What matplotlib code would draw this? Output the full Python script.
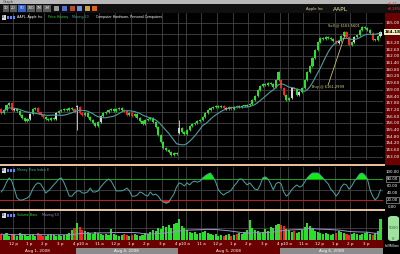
import numpy as np
import pandas as pd
import matplotlib
matplotlib.use('Agg')
import matplotlib.pyplot as plt
from matplotlib.patches import Rectangle, FancyBboxPatch
from matplotlib.transforms import blended_transform_factory

W, H = 400, 254

# 10 minute bars, closes
aug1_close = [156.93, 157.20, 157.65, 157.83, 157.20, 157.29, 157.11, 156.75, 156.48, 156.21,
              156.39, 156.84, 157.29, 157.38, 157.02, 156.75, 156.57, 156.39, 156.30, 156.48,
              156.39, 156.93, 157.11, 157.20, 157.29, 157.20, 157.38, 157.29, 157.02]
aug4_close = [157.47, 156.93, 156.75, 156.93, 156.57, 156.30, 156.03, 155.77, 156.12, 156.66,
              156.93, 157.02, 157.20, 157.29, 157.11, 157.29, 157.38, 157.20, 157.11, 156.75,
              156.93, 156.66, 156.84, 156.48, 156.21, 155.95, 156.30, 156.39, 156.48, 156.12,
              155.68, 154.96, 154.34, 153.80, 153.62, 153.44, 153.17, 153.35, 153.26]
aug5_close = [155.59, 155.23, 155.05, 155.41, 155.77, 155.95, 156.03, 156.21, 156.30, 156.57,
              156.93, 157.20, 157.38, 157.47, 157.56, 157.47, 157.56, 157.38, 157.29, 157.47,
              157.29, 157.47, 157.56, 157.47, 157.56, 157.56, 157.65, 157.74, 158.09, 158.45,
              158.99, 159.35, 159.53, 159.44, 159.62, 159.53, 159.26, 159.88, 160.60]
aug6_close = [159.17, 158.54, 158.09, 158.27, 159.17, 159.08, 158.54, 158.81, 159.17, 159.88,
              160.60, 161.14, 161.85, 162.57, 163.29, 163.64, 163.55, 163.73, 163.64, 163.55,
              163.37, 163.20, 163.37, 163.82, 164.18, 163.73, 163.02, 163.29, 163.73, 163.91,
              164.36, 164.63, 164.54, 164.36, 164.09, 163.46, 163.46, 163.82, 164.18]
first_open = 157.30
gap_open = {29: 157.47, 68: 155.14, 107: 159.88}
wide_range = {29: (155.41, 157.65), 68: (155.05, 156.30)}
red_bars = [0, 4, 14, 15, 16, 28, 30, 31, 47, 48, 50, 85, 88, 90, 107, 108, 112, 128, 132, 133, 142]
white_bars = [5, 11, 21, 29, 38, 68, 86, 111, 114, 129, 135, 145]

mfi = [43, 54, 71, 83, 74, 51, 26, 20, 20, 23, 26, 34, 51, 63, 69, 66, 54, 40, 46, 54,
       63, 71, 80, 83, 69, 51, 31, 31, 40, 46, 46, 40, 40, 43, 54, 43, 43, 46, 57, 66,
       74, 80, 74, 60, 46, 46, 46, 49, 54, 46, 31, 31, 34, 43, 40, 34, 31, 43, 34, 37,
       31, 20, 14, 11, 14, 26, 37, 57, 69, 66, 60, 69, 63, 71, 74, 71, 74, 83, 89, 94,
       97, 86, 71, 49, 40, 34, 40, 43, 49, 60, 69, 80, 80, 71, 63, 69, 60, 51, 49, 63,
       83, 86, 80, 66, 49, 66, 71, 66, 43, 31, 37, 49, 57, 63, 57, 60, 71, 83, 91, 97,
       97, 97, 91, 83, 74, 66, 51, 43, 31, 40, 57, 66, 63, 51, 60, 74, 83, 94, 97, 91,
       80, 49, 31, 20, 29, 49]

volume = [2500, 2100, 2900, 1700, 2500, 2100, 1700, 2900, 2500, 2100, 1700, 2100, 2500, 1700, 2900,
          2100, 1700, 1700, 2100, 2500, 2100, 1700, 2100, 1700, 2100, 2500, 2900, 4200, 5000,
          7100, 5500, 4200, 3800, 3400, 2900, 2500, 3400, 2900, 2500, 2100, 2500, 2100, 4600, 2500,
          2100, 1700, 2100, 2500, 2100, 1700, 2100, 2500, 2100, 1700, 2100, 2900, 2500, 3400, 4200,
          3800, 5000, 4600, 5900, 5500, 6300, 5000, 6700, 7000,
          8800, 5900, 5000, 4200, 3400, 2900, 3400, 2500, 2900, 3400, 3800, 2900, 2500, 2100, 2500,
          1700, 2100, 1700, 2100, 2500, 1700, 2100, 2500, 2900, 2500, 3400, 4200, 8400, 5000, 4200,
          3800, 2900, 3400, 4600, 3800, 5500, 5000, 6300, 6700,
          6300, 5900, 4600, 4200, 3400, 3800, 2900, 3400, 4200, 5500, 7100, 5900, 4600, 3800, 3400,
          2900, 2500, 2900, 2500, 2100, 2500, 2900, 3800, 3400, 2900, 2500, 2100, 2500, 2900, 2500,
          2100, 2500, 2900, 3400, 2500, 2100, 2900, 3800, 8800]

days = ['Aug 1, 2008', 'Aug 4, 2008', 'Aug 5, 2008', 'Aug 6, 2008']
day_start = [-10.5, 28.5, 67.5, 106.5]      # 9:30 open, in bar units
hour_labels = ['10 a', '11 a', '12 p', '1 p', '2 p', '3 p', '4 p']
mfi_labels = ['100.00', '80.00', '60.00', '40.00', '20.00', '0.00']
buy_text = 'Buy @ $161.2999'
sell_text = 'Sell @ $163.5601'
last_price = 164.18

close = np.array(aug1_close + aug4_close + aug5_close + aug6_close)
n = len(close)
t = np.arange(n)
opens = np.r_[first_open, close[:-1]]
for k, v in gap_open.items():
    opens[k] = v

GREEN = '#2be02b'
RED = '#ff2222'
WHITE = '#d8d8d8'
cols = []
for i in range(n):
    if i in red_bars:
        cols.append(RED)
    elif i in white_bars:
        cols.append(WHITE)
    else:
        cols.append(GREEN)

XMIN, XMAX = -0.5, 145.96
GRID = '#444444'
hour_pos, hour_txt = [], []
for s in day_start:
    for h, lab in zip(range(10, 17), hour_labels):
        p = s + (h - 9.5) * 6
        if XMIN < p < XMAX - 2:
            hour_pos.append(p)
            hour_txt.append(lab)

fig = plt.figure(figsize=(4.0, 2.54), dpi=100, facecolor='black')
plt.rcParams['font.family'] = 'DejaVu Sans'


def rect(x0, y0, x1, y1):
    return [x0 / W, 1 - y1 / H, (x1 - x0) / W, (y1 - y0) / H]


def frect(x0, y0, x1, y1, color, z=-1, **kw):
    fig.add_artist(Rectangle((x0 / W, 1 - y1 / H), (x1 - x0) / W, (y1 - y0) / H,
                             transform=fig.transFigure, facecolor=color, edgecolor='none',
                             zorder=z, **kw))


def ftext(x, y, s, **kw):
    kw.setdefault('fontsize', 3.3)
    kw.setdefault('va', 'center')
    fig.text(x / W, 1 - y / H, s, **kw)


def style(ax):
    ax.set_facecolor('black')
    for sp in ax.spines.values():
        sp.set_visible(False)
    ax.set_xlim(XMIN, XMAX)
    ax.set_xticks(hour_pos)
    ax.tick_params(length=0, labelbottom=False, labelleft=False)
    ax.grid(True, color=GRID, lw=0.6)
    ax.set_axisbelow(True)


def legend_head(y, items):
    frect(1.5, y - 2.2, 5.5, y + 2.2, '#d8d8d8', z=2)
    ftext(3.5, y, 'X', color='black', fontsize=2.4, ha='center')
    for x0 in (7, 10, 13):
        frect(x0, y - 1.2, x0 + 2, y + 1.2, '#5a8cff', z=2)
    for x, s, c in items:
        ftext(x, y, s, color=c, fontsize=2.3)


# ---- chrome ----
frect(0, 0, 400, 4, '#b8b8b8')
ftext(3, 2, 'Graph', color='#404040', fontsize=2.5)
frect(0, 4, 400, 12.5, '#101010')
for x0, x1, lab, sel in [(3, 9, '1D', False), (10, 17, '2D', False), (18, 26, '5D', True),
                         (27, 35, '10D', False), (36, 42, '1M', False), (43, 51, '3M', False)]:
    frect(x0, 5, x1, 11.5, '#3060c8' if sel else '#5a5a5a', z=1)
    ftext((x0 + x1) / 2, 8.3, lab, color='white', fontsize=2.3, ha='center')
for x0, c in [(54, '#9a9a9a'), (62, '#5070d0'), (70, '#b05030'), (77, '#7090e0'), (85, '#d0a040'), (92, '#e06020')]:
    frect(x0, 6, x0 + 5, 11, c, z=1)
ftext(306, 9, 'Apple Inc', color='#e8e0a0', fontsize=2.6)
ftext(333, 9.5, 'AAPL', color='#e6f0a8', fontsize=4.2)
ftext(387, 4, '+0.45', color='#ff3030', fontsize=2.5)
ftext(387, 9, '+0.28%', color='#ff3030', fontsize=2.5)

# right axis backgrounds
frect(385, 13, 400, 165, '#6a0000')
frect(0, 240, 383, 248, '#6a0000')
day_edges = [-0.5, 28.5, 67.5, 106.5, XMAX]
for k in range(4):
    x0 = (day_edges[k] + 0.5) * 383 / (XMAX + 0.5)
    x1 = (day_edges[k + 1] + 0.5) * 383 / (XMAX + 0.5)
    frect(x0, 248, x1, 254, '#6a0000' if k % 2 == 0 else '#8c8c8c')
    ftext((x0 + x1) / 2, 251, days[k], color='white', fontsize=3.0, ha='center')

# separators
for y in (164.8, 209.8):
    frect(0, y - 0.8, 385, y + 0.8, '#e6bf98', z=1)

# ---- price panel ----
ax = fig.add_axes(rect(0, 13, 383, 160))
style(ax)
ax.set_ylim(152.72, 165.88)
ax.set_yticks(np.arange(153, 166, 1.0))
lo = np.minimum(opens, close)
hi = np.maximum(opens, close)
body = np.maximum(hi - lo, 0.06)
wlo = lo - 0.08
whi = hi + 0.08
for k, (a, b) in wide_range.items():
    wlo[k], whi[k] = a, b
ax.vlines(t, wlo, whi, colors=cols, lw=0.6)
ax.bar(t, body, bottom=lo, width=0.8, color=cols, linewidth=0)
ma = pd.Series(close).rolling(10, min_periods=1).mean()
ax.plot(t, ma, color='#4f9e9e', lw=0.8)

# buy / sell notes
ax.plot([125.0, 131.4], [159.45, 163.91], color='#c8c070', lw=0.6)
ax.text(124.8, 159.26, buy_text, color='#e0d890', fontsize=2.6, ha='center', va='center')
ax.text(131.0, 164.81, sell_text, color='#e0d890', fontsize=2.6, ha='center', va='center')

legend_head(17.3, [(17, 'AAPL, Apple Inc', 'white'), (48, 'Price History', '#30e030'),
                   (72, 'Moving 20', '#40b0b0'), (96, 'Computer Hardware, Personal Computers', 'white')])

# price labels
tr = blended_transform_factory(fig.transFigure, ax.transData)
for k in range(21):
    v = 153.0 + 0.6 * k
    if abs(v - last_price) < 0.45:
        continue
    fig.text(392.5 / W, v, '%.2f' % v, transform=tr, color='white', fontsize=3.0,
             ha='center', va='center')
fig.text(392.5 / W, last_price, '%.2f' % last_price, transform=tr, color='black', fontsize=3.0,
         ha='center', va='center', fontweight='bold',
         bbox=dict(boxstyle='square,pad=0.15', fc='#f4f0c0', ec='none'))

# ---- MFI panel ----
am = fig.add_axes(rect(0, 167, 383, 209))
style(am)
am.set_ylim(-5.7, 114.3)
am.set_yticks([50])
m = np.array(mfi, dtype=float)
am.axhline(80, color='#20a020', lw=0.7)
am.axhline(20, color='#c02020', lw=0.7)
am.fill_between(t, 80, m, where=m > 80, interpolate=True, color='#10ee10', lw=0)
am.fill_between(t, 20, m, where=m < 20, interpolate=True, color='#ff1010', lw=0)
am.plot(t, m, color='#4aa6a6', lw=0.7)
legend_head(170.3, [(17, 'Money Flow Index 8', '#40b0b0')])
for lab, y in zip(mfi_labels, [172, 179, 186, 193, 200, 207]):
    boxed = lab in ('80.00', '20.00')
    ftext(392.5, y, lab, color='white', fontsize=2.8, ha='center',
          bbox=dict(boxstyle='square,pad=0.2', fc='black', ec='#c0c0c0', lw=0.4) if boxed else None)

# ---- volume panel ----
av = fig.add_axes(rect(0, 211, 383, 240))
style(av)
av.set_ylim(0, 12180)
av.set_yticks([5000])
vcols = [RED if c == RED else GREEN for c in cols]
av.bar(t, volume, width=0.8, color=vcols, linewidth=0)
vma = pd.Series(volume).rolling(25, min_periods=1).mean()
av.plot(t, vma, color='#a090d0', lw=0.7)
legend_head(215.3, [(17, 'Volume Bars', '#30e030'), (42, 'Moving 50', '#a090d0')])
fig.add_artist(FancyBboxPatch((388 / W, 1 - 241 / H), 11 / W, 25 / H,
                              boxstyle='round,pad=0,rounding_size=0.01',
                              transform=fig.transFigure, fc='#9ee29e', ec='none', zorder=1))
ftext(393.5, 228, '5000', color='#306030', fontsize=2.8, ha='center')
ftext(393.5, 239, '0', color='#306030', fontsize=2.8, ha='center')
ftext(392, 246, '(x)Million', color='white', fontsize=2.3, ha='center')

# hour labels
trx = blended_transform_factory(av.transData, fig.transFigure)
for p, lab in zip(hour_pos, hour_txt):
    fig.text(p, 1 - 244 / H, lab, transform=trx, color='white', fontsize=3.0,
             ha='center', va='center')

fig.savefig('out.png', dpi=100, facecolor='black')
